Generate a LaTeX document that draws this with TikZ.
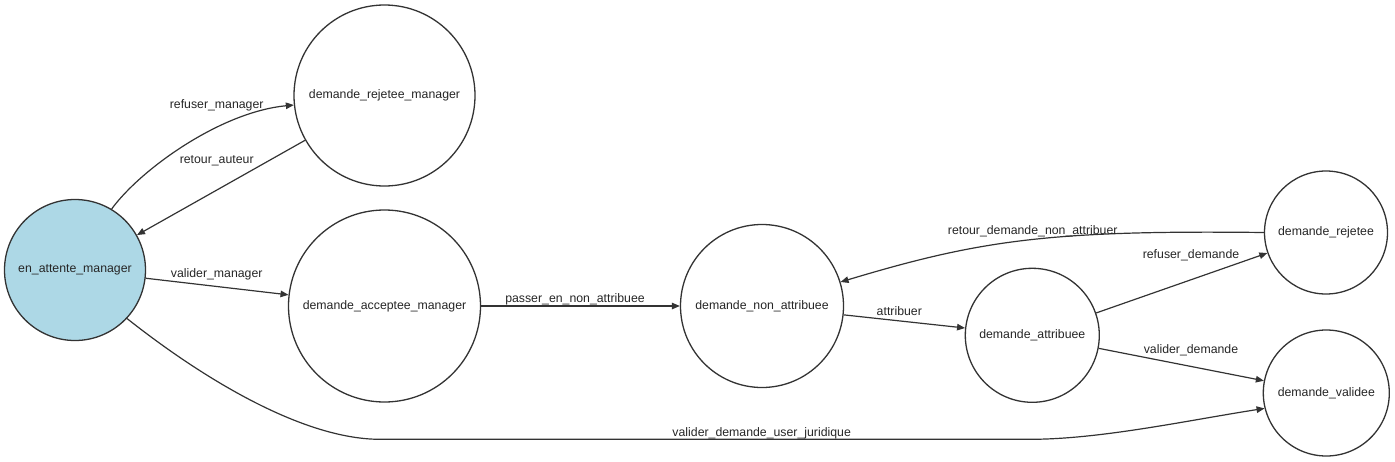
\documentclass[tikz,border=0pt]{standalone}
\usepackage{fontspec}
\setmainfont{Liberation Sans}
\usetikzlibrary{arrows.meta}
\definecolor{edgec}{HTML}{333333}
\definecolor{startfill}{HTML}{ADD8E6}
\begin{document}
\begin{tikzpicture}[x=1pt,y=-1pt,
  state/.style={circle,draw=edgec,line width=1.3pt,inner sep=0pt,fill=white,
    font=\fontsize{12.3}{14}\selectfont,text=black!85},
  lbl/.style={inner sep=0pt,yshift=-1.5pt,font=\fontsize{12.3}{14}\selectfont,text=black!85},
  conn/.style={draw=edgec,line width=1.2pt,-{Triangle[length=8pt,width=6.5pt]}}]
\useasboundingbox (0,0) rectangle (1395,461);
\node[state,fill=startfill,minimum size=141pt] (ea) at (75,270) {en\_attente\_manager};
\node[state,minimum size=181pt] (drm) at (384.5,95.5) {demande\_rejetee\_manager};
\node[state,minimum size=192pt] (dam) at (384.5,306) {demande\_acceptee\_manager};
\node[state,minimum size=163pt] (dna) at (762,306) {demande\_non\_attribuee};
\node[state,minimum size=134pt] (da) at (1032.3,335.3) {demande\_attribuee};
\node[state,minimum size=123pt] (dr) at (1326,232.5) {demande\_rejetee};
\node[state,minimum size=126pt] (dv) at (1326.3,393) {demande\_validee};

\draw[conn] (ea.59.3) .. controls (140,170) and (220,112) .. (drm.186);
\draw[conn] (drm) -- (ea);
\draw[conn] (ea) -- (dam);
\draw[conn] (dam) -- (dna);
\draw[conn] (dna) -- (da);
\draw[conn] (da) -- (dr);
\draw[conn] (da) -- (dv);
\draw[conn] (dr.west) .. controls (1050,230) and (980,240) .. (dna.17.9);
\coordinate (b1) at (380,439.3);
\coordinate (b2) at (1030,439.3);
\draw[conn] (ea.-43.1) .. controls (197,374) and (300,439.3) .. (b1) -- (b2)
  .. controls (1100,439.3) and (1186,420.7) .. (dv.194.2);

\node[lbl] (l1) at (216.7,103.7) {refuser\_manager};
\node[lbl] (l2) at (216.7,159.7) {retour\_auteur};
\node[lbl] (l3) at (216.7,272.7) {valider\_manager};
\node[lbl] (l4) at (575,297.7) {passer\_en\_non\_attribuee};
\node[lbl] (l5) at (899.3,310) {attribuer};
\node[lbl] (l6) at (1032.7,230) {retour\_demande\_non\_attribuer};
\node[lbl] (l7) at (1191,254) {refuser\_demande};
\node[lbl] (l8) at (1191,349) {valider\_demande};
\node[lbl] (l9) at (761.7,431.7) {valider\_demande\_user\_juridique};
\end{tikzpicture}
\end{document}
